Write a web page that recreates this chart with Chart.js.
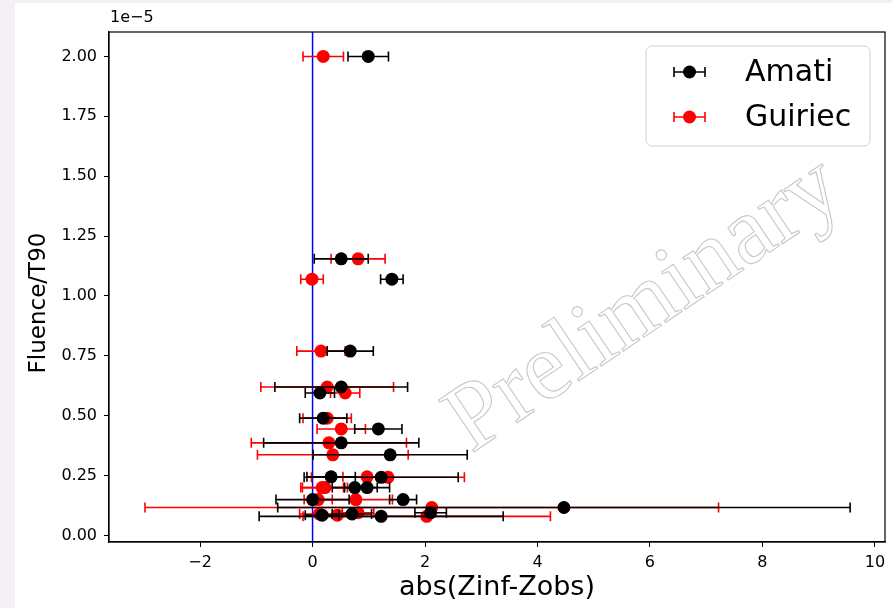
<!doctype html>
<html lang="en">
<head>
  <meta charset="utf-8">
  <title>Fluence/T90 vs abs(Zinf-Zobs)</title>
  <script src="https://cdn.jsdelivr.net/npm/chart.js@4/dist/chart.umd.min.js"></script>
  <style>
    body { margin: 0; background: #f3f0f7; }
    .grafico { position: absolute; left: 15px; top: 3px; width: 877px; height: 605px; background: #fff; }
  </style>
</head>
<body>

<div class="grafico">
  <canvas id="myChart" width="877" height="605"></canvas>
</div>

<script>
// fluence/T90 in units of 1e-5, one value per burst
var fluence    = [2.00, 1.155, 1.07, 0.77, 0.62, 0.595, 0.49, 0.445, 0.387, 0.337, 0.245, 0.243, 0.20, 0.20, 0.15, 0.15, 0.117, 0.095, 0.08, 0.085, 0.09];
// abs(Zinf-Zobs) with the Amati relation, and its error
var amatiX     = [0.99, 0.51, 1.41, 0.67, 0.51, 0.13, 0.19, 1.17, 0.51, 1.38, 0.33, 1.22, 0.75, 0.97, 1.61, 0.00, 4.47, 2.10, 1.22, 0.17, 0.70];
var amatiErr   = [0.36, 0.48, 0.20, 0.41, 1.18, 0.26, 0.42, 0.42, 1.38, 1.37, 0.43, 1.37, 0.40, 0.40, 0.24, 0.65, 5.09, 0.28, 2.17, 0.30, 0.35];
// same with the Guiriec relation
var guiriecX   = [0.19, 0.81, -0.01, 0.15, 0.26, 0.58, 0.26, 0.51, 0.29, 0.36, 0.97, 1.34, 0.17, 0.22, 0.10, 0.77, 2.12, 0.81, 2.03, 0.44, 0.12];
var guiriecErr = [0.36, 0.48, 0.20, 0.43, 1.18, 0.26, 0.43, 0.43, 1.38, 1.34, 0.43, 1.36, 0.38, 0.40, 0.25, 0.65, 5.10, 0.28, 2.20, 0.30, 0.35];

var xTicks = [-2, 0, 2, 4, 6, 8, 10];
var yTicks = [0, 0.25, 0.5, 0.75, 1.0, 1.25, 1.5, 1.75, 2.0];
var vlineX = 0;

function pts(xs) {
  return xs.map(function (x, i) { return {x: x, y: fluence[i]}; });
}

// horizontal error bars, drawn just before the points of each dataset
var errBars = {
  id: 'errBars',
  beforeDatasetDraw: function (chart, args) {
    var ds = chart.data.datasets[args.index];
    var xs = chart.scales.x, ys = chart.scales.y, ctx = chart.ctx;
    ctx.save();
    ctx.strokeStyle = ds.borderColor;
    ctx.lineWidth = 1.6;
    ds.data.forEach(function (p, i) {
      var e = ds.xErr[i];
      var x0 = xs.getPixelForValue(p.x - e), x1 = xs.getPixelForValue(p.x + e);
      var y = ys.getPixelForValue(p.y);
      ctx.beginPath();
      ctx.moveTo(x0, y); ctx.lineTo(x1, y);
      ctx.moveTo(x0, y - 5); ctx.lineTo(x0, y + 5);
      ctx.moveTo(x1, y - 5); ctx.lineTo(x1, y + 5);
      ctx.stroke();
    });
    ctx.restore();
  }
};

// blue line at x=0, frame, offset text, y label, watermark, legend
var extras = {
  id: 'extras',
  beforeDatasetsDraw: function (chart) {
    var ctx = chart.ctx, a = chart.chartArea;
    var x = chart.scales.x.getPixelForValue(vlineX);
    ctx.save();
    ctx.strokeStyle = '#0000ff';
    ctx.lineWidth = 1.5;
    ctx.beginPath(); ctx.moveTo(x, a.top); ctx.lineTo(x, a.bottom); ctx.stroke();
    ctx.restore();
  },
  afterDraw: function (chart) {
    var ctx = chart.ctx, a = chart.chartArea;
    ctx.save();
    ctx.strokeStyle = '#000';
    ctx.lineWidth = 1.2;
    ctx.strokeRect(a.left, a.top, a.right - a.left, a.bottom - a.top);

    ctx.fillStyle = '#000';
    ctx.font = '16px "DejaVu Sans"';
    ctx.textAlign = 'left';
    ctx.textBaseline = 'middle';
    ctx.fillText('1e\u22125', a.left + 1, 15);

    // y axis label
    ctx.translate(24, 300);
    ctx.rotate(-Math.PI / 2);
    ctx.font = '23px "DejaVu Sans"';
    ctx.textAlign = 'center';
    ctx.fillText('Fluence/T90', 0, 0);
    ctx.setTransform(1, 0, 0, 1, 0, 0);

    // watermark
    ctx.translate(630, 303);
    ctx.rotate(-34 * Math.PI / 180);
    ctx.font = '96px "Liberation Serif"';
    ctx.textAlign = 'center';
    ctx.strokeStyle = '#c8c8c8';
    ctx.lineWidth = 1.1;
    ctx.strokeText('Preliminary', 0, 0);
    ctx.setTransform(1, 0, 0, 1, 0, 0);

    // legend
    var bx = 631, by = 43, bw = 224, bh = 100, r = 6;
    ctx.beginPath();
    ctx.moveTo(bx + r, by);
    ctx.arcTo(bx + bw, by, bx + bw, by + bh, r);
    ctx.arcTo(bx + bw, by + bh, bx, by + bh, r);
    ctx.arcTo(bx, by + bh, bx, by, r);
    ctx.arcTo(bx, by, bx + bw, by, r);
    ctx.closePath();
    ctx.fillStyle = 'rgba(255,255,255,0.8)';
    ctx.fill();
    ctx.strokeStyle = '#d0d0d0';
    ctx.lineWidth = 1;
    ctx.stroke();

    chart.data.datasets.forEach(function (ds, i) {
      var y = 69 + i * 45;
      ctx.strokeStyle = ds.borderColor;
      ctx.lineWidth = 1.6;
      ctx.beginPath();
      ctx.moveTo(659, y); ctx.lineTo(690, y);
      ctx.moveTo(659, y - 5); ctx.lineTo(659, y + 5);
      ctx.moveTo(690, y - 5); ctx.lineTo(690, y + 5);
      ctx.stroke();
      ctx.fillStyle = ds.backgroundColor;
      ctx.beginPath(); ctx.arc(674.5, y, 6.5, 0, 2 * Math.PI); ctx.fill();
      ctx.fillStyle = '#000';
      ctx.font = '30px "DejaVu Sans"';
      ctx.textAlign = 'left';
      ctx.textBaseline = 'middle';
      ctx.fillText(ds.label, 730, y + 1);
    });
    ctx.restore();
  }
};

var ctx = document.getElementById('myChart').getContext('2d');
var myChart = new Chart(ctx, {
  type: 'scatter',
  data: {
    datasets: [{
      label: 'Amati',
      data: pts(amatiX),
      xErr: amatiErr,
      backgroundColor: '#000000',
      borderColor: '#000000',
      pointRadius: 6.5,
      pointHoverRadius: 6.5,
      pointBorderWidth: 0
    }, {
      label: 'Guiriec',
      data: pts(guiriecX),
      xErr: guiriecErr,
      backgroundColor: '#ff0000',
      borderColor: '#ff0000',
      pointRadius: 6.5,
      pointHoverRadius: 6.5,
      pointBorderWidth: 0
    }]
  },
  plugins: [errBars, extras],
  options: {
    responsive: false,
    animation: false,
    devicePixelRatio: 1,
    layout: {padding: {left: 0, top: 29, right: 7, bottom: 0}},
    plugins: {legend: {display: false}, tooltip: {enabled: false}},
    scales: {
      x: {
        type: 'linear',
        min: -3.62,
        max: 10.18,
        afterBuildTicks: function (s) { s.ticks = xTicks.map(function (v) { return {value: v}; }); },
        afterFit: function (s) { s.height = 66; },
        grid: {drawOnChartArea: false, drawTicks: true, tickLength: 5, color: '#000'},
        border: {display: true, color: '#000', width: 1.2},
        ticks: {
          color: '#000', padding: 6, maxRotation: 0,
          font: {family: 'DejaVu Sans', size: 16},
          callback: function (v) { return String(v).replace('-', '\u2212'); }
        },
        title: {display: true, text: 'abs(Zinf-Zobs)', color: '#000',
                font: {family: 'DejaVu Sans', size: 27}, padding: {top: 0, bottom: 4}}
      },
      y: {
        type: 'linear',
        min: -0.027,
        max: 2.102,
        afterBuildTicks: function (s) { s.ticks = yTicks.map(function (v) { return {value: v}; }); },
        afterFit: function (s) { s.width = 94; },
        grid: {drawOnChartArea: false, drawTicks: true, tickLength: 5, color: '#000'},
        border: {display: true, color: '#000', width: 1.2},
        ticks: {
          color: '#000', padding: 7,
          font: {family: 'DejaVu Sans', size: 16},
          callback: function (v) { return v.toFixed(2); }
        },
        title: {display: false}
      }
    }
  }
});
</script>

</body>
</html>
